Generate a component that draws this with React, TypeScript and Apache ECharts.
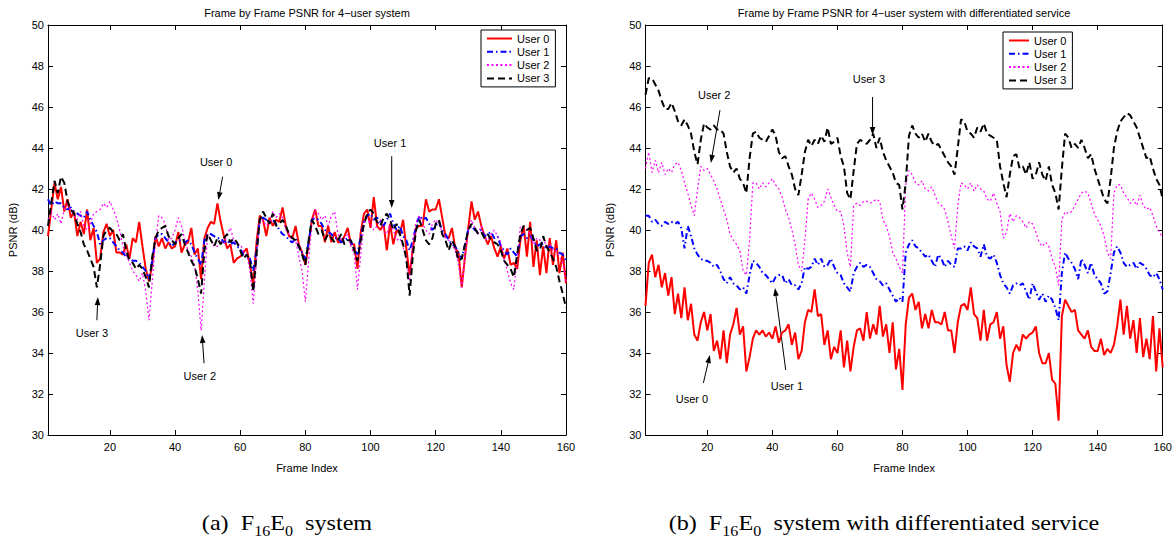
import React, { useEffect, useRef } from 'react';
import * as echarts from 'echarts';

// ---------- data ----------
const userNames = ['User 0', 'User 1', 'User 2', 'User 3'];
const xTicks = [20, 40, 60, 80, 100, 120, 140, 160];

// (a) F16E0 system
const leftUser0 = [
  39.7, 41.0, 42.3, 41.5, 42.1, 40.9, 41.5, 40.6, 40.9, 39.7,
  40.4, 39.8, 41.0, 39.5, 40.1, 38.4, 38.6, 39.9, 40.3, 39.7,
  40.0, 38.9, 38.9, 38.8, 39.3, 38.6, 39.6, 39.4, 40.4, 39.2,
  38.1, 37.5, 38.3, 39.7, 39.2, 39.6, 39.1, 39.4, 39.1, 39.2,
  39.9, 38.9, 39.3, 39.4, 40.1, 38.8, 39.1, 37.6, 39.6, 40.1,
  40.4, 40.3, 41.3, 40.4, 39.7, 39.1, 39.3, 38.4, 38.6, 38.7,
  38.9, 39.1, 38.3, 37.3, 39.4, 40.7, 40.5, 39.7, 40.6, 40.2,
  40.5, 40.4, 41.1, 40.2, 39.7, 39.6, 40.2, 39.3, 38.9, 38.3,
  39.3, 40.5, 41.0, 40.2, 40.2, 39.4, 40.2, 39.4, 39.9, 39.4,
  39.4, 39.7, 40.1, 39.3, 39.3, 38.1, 39.9, 40.8, 41.0, 40.1,
  41.6, 40.2, 40.0, 40.3, 39.0, 40.3, 39.3, 40.0, 39.8, 40.5,
  39.1, 37.8, 39.1, 40.1, 40.2, 40.2, 41.5, 40.9, 41.0, 41.0,
  41.5, 40.6, 39.7, 39.6, 40.1, 39.1, 38.9, 37.2, 38.7, 40.1,
  41.4, 40.5, 40.9, 40.2, 39.7, 39.3, 39.7, 39.1, 38.7, 39.2,
  38.6, 39.1, 38.3, 38.4, 38.1, 39.5, 40.2, 38.7, 40.4, 38.2,
  39.5, 37.8, 39.2, 37.9, 39.6, 38.3, 39.5, 37.9, 38.9, 37.4,
];
const leftUser1 = [
  41.5, 41.2, 41.4, 41.3, 41.3, 41.1, 41.0, 41.1, 40.9, 40.8,
  40.7, 40.6, 40.9, 40.5, 40.2, 39.9, 39.3, 39.5, 39.6, 39.6,
  39.4, 39.2, 39.0, 38.9, 38.7, 38.6, 38.5, 38.5, 38.4, 38.2,
  38.0, 37.6, 38.5, 39.6, 39.8, 39.8, 39.6, 39.4, 39.2, 39.4,
  39.5, 39.5, 39.4, 39.5, 39.3, 38.9, 38.6, 38.3, 39.5, 39.8,
  39.8, 39.7, 39.6, 39.6, 39.4, 39.5, 39.3, 39.4, 39.2, 39.1,
  38.8, 38.8, 38.6, 38.0, 39.0, 40.5, 40.6, 40.5, 40.4, 40.5,
  40.3, 40.0, 39.8, 39.7, 39.5, 39.4, 39.6, 39.2, 38.9, 38.6,
  39.4, 40.5, 40.6, 40.5, 40.3, 40.0, 39.9, 39.8, 39.6, 39.6,
  39.4, 39.5, 39.6, 39.4, 39.1, 38.8, 39.7, 40.4, 40.7, 40.8,
  40.5, 40.6, 40.4, 40.2, 40.5, 40.8, 40.3, 40.0, 40.2, 39.7,
  39.5, 39.0, 39.5, 40.2, 40.7, 40.5, 40.6, 40.3, 40.0, 40.2,
  40.4, 40.0, 39.8, 39.5, 39.3, 39.2, 38.9, 38.6, 39.3, 40.0,
  40.2, 40.0, 39.9, 40.0, 39.7, 39.8, 39.9, 39.6, 39.7, 39.2,
  39.0, 38.8, 39.1, 38.9, 38.7, 39.7, 39.8, 39.6, 39.7, 39.5,
  39.2, 39.3, 39.3, 39.1, 39.2, 39.1, 39.1, 38.9, 38.8, 38.5,
];
const leftUser2 = [
  40.5, 40.9, 40.5, 40.8, 40.3, 41.0, 41.2, 41.0, 40.7, 40.5,
  40.9, 40.2, 40.0, 40.3, 40.8, 40.9, 41.0, 41.3, 41.1, 41.4,
  41.0, 40.6, 40.0, 39.2, 38.8, 38.4, 38.0, 37.8, 37.5, 37.9,
  37.0, 35.6, 37.5, 39.4, 40.7, 40.6, 40.3, 39.5, 39.6, 40.0,
  40.6, 40.2, 39.5, 39.0, 38.7, 38.3, 37.0, 35.1, 37.5, 39.8,
  39.5, 39.2, 39.2, 39.5, 39.3, 39.8, 40.1, 39.5, 39.3, 39.3,
  39.0, 38.8, 38.0, 36.4, 38.5, 40.3, 40.5, 40.2, 40.4, 40.9,
  40.6, 40.8, 40.6, 40.0, 39.8, 39.5, 39.5, 38.7, 38.0, 36.5,
  38.5, 40.3, 41.0, 40.8, 40.5, 40.7, 40.2, 40.7, 40.9, 39.8,
  39.5, 39.6, 39.8, 39.2, 38.8, 37.1, 38.8, 40.3, 40.6, 40.3,
  40.0, 40.2, 40.5, 40.0, 39.8, 40.3, 40.0, 39.5, 39.6, 39.2,
  38.5, 37.5, 39.5, 40.4, 40.7, 40.3, 40.0, 39.8, 40.3, 40.5,
  40.3, 39.9, 39.6, 39.5, 39.3, 39.0, 38.3, 37.2, 38.8, 40.0,
  40.5, 40.1, 39.8, 40.2, 39.6, 39.5, 39.8, 40.0, 39.7, 39.4,
  38.6, 38.0, 37.4, 37.1, 38.6, 40.2, 40.1, 40.0, 39.8, 39.3,
  39.6, 39.5, 39.6, 39.2, 39.3, 39.0, 39.0, 38.7, 38.4, 37.5,
];
const leftUser3 = [
  40.2, 41.3, 42.4, 41.8, 42.6, 42.3, 41.4, 41.0, 40.8, 40.3,
  39.9, 39.3, 39.0, 38.6, 38.2, 37.2, 38.3, 39.7, 40.0, 40.1,
  39.9, 39.8, 39.5, 39.8, 39.0, 38.5, 38.4, 38.1, 38.3, 38.1,
  37.7, 37.2, 38.7, 39.6, 40.0, 40.1, 40.2, 39.7, 39.5, 39.3,
  39.6, 39.8, 39.3, 38.9, 38.5, 38.2, 37.6, 36.9, 39.0, 39.8,
  39.5, 39.2, 39.6, 39.3, 39.6, 39.8, 39.4, 39.6, 39.4, 39.0,
  38.6, 38.8, 38.5, 37.0, 38.8, 40.5, 40.9, 40.6, 40.3, 40.8,
  40.2, 40.3, 40.5, 40.2, 39.8, 39.6, 39.5, 39.2, 38.8, 38.3,
  39.5, 40.5, 40.2, 39.8, 40.0, 39.5, 39.8, 39.6, 39.4, 39.5,
  39.8, 39.3, 39.5, 39.5, 39.0, 38.5, 39.5, 40.3, 40.8, 41.0,
  40.8, 40.4, 40.2, 40.6, 40.8, 40.5, 40.0, 40.3, 39.8, 39.3,
  38.6, 36.8, 38.8, 40.0, 40.5, 40.0, 39.5, 39.3, 39.6, 40.3,
  40.5, 39.8, 39.5, 39.0, 39.5, 39.2, 38.5, 38.6, 39.3, 40.0,
  40.3, 40.1, 39.8, 39.9, 39.6, 39.8, 39.5, 39.4, 39.3, 39.0,
  38.5, 38.3, 38.1, 37.7, 38.8, 39.8, 40.2, 40.0, 40.1, 39.6,
  39.0, 39.0, 39.7, 39.2, 38.9, 38.6, 38.2, 37.5, 36.9, 36.2,
];

// (b) F16E0 system with differentiated service
const rightUser0 = [
  36.3, 38.4, 38.8, 37.7, 38.3, 37.2, 37.9, 36.8, 37.7, 35.9,
  36.9, 35.7, 37.2, 35.6, 36.4, 34.9, 34.6, 35.5, 36.0, 35.1,
  35.9, 34.1, 34.6, 33.7, 35.1, 33.5, 34.9, 35.4, 36.2, 34.9,
  35.3, 33.1, 33.8, 34.7, 35.1, 34.9, 35.1, 34.8, 35.0, 34.7,
  35.3, 34.5, 35.0, 35.1, 35.4, 34.4, 35.0, 33.7, 34.1, 35.5,
  36.1, 36.0, 37.1, 35.8, 35.9, 34.4, 35.1, 33.7, 34.3, 34.0,
  35.1, 33.3, 34.6, 33.1, 34.3, 35.1, 35.2, 34.6, 36.0, 34.7,
  35.4, 34.9, 36.3, 34.8, 35.4, 34.0, 35.5, 33.2, 34.2, 32.2,
  35.4, 36.7, 36.9, 36.1, 36.5, 35.2, 35.9, 35.2, 36.1, 35.5,
  35.5, 35.4, 36.0, 35.1, 35.1, 34.0, 35.5, 36.3, 36.4, 36.1,
  37.2, 35.9, 35.7, 34.6, 36.1, 34.6, 35.4, 35.5, 36.0, 34.7,
  35.3, 33.4, 32.6, 34.0, 34.4, 34.1, 34.9, 34.7, 34.9, 35.0,
  35.3, 34.0, 33.5, 33.5, 34.0, 32.7, 32.5, 30.7, 35.8, 36.6,
  36.3, 36.0, 36.1, 35.1, 34.9, 34.7, 35.1, 34.3, 34.1, 34.1,
  34.7, 33.9, 34.2, 34.0, 34.4, 35.3, 36.6, 34.9, 36.3, 34.7,
  35.6, 34.0, 35.7, 33.8, 34.7, 33.7, 35.8, 33.1, 35.2, 33.3,
];
const rightUser1 = [
  40.7, 40.7, 40.4, 40.5, 40.3, 40.2, 40.4, 40.3, 40.4, 40.3,
  40.4, 40.1, 39.1, 40.2, 39.7, 39.1, 38.8, 38.6, 38.5, 38.5,
  38.4, 38.2, 38.3, 38.0, 37.6, 37.4, 37.7, 37.4, 37.3, 37.1,
  37.2, 36.9, 37.8, 38.5, 38.4, 38.2, 37.9, 37.8, 37.6, 37.4,
  37.7, 37.8, 37.8, 37.4, 37.6, 37.3, 37.3, 37.1, 37.4, 38.2,
  38.1, 38.2, 38.6, 38.3, 38.6, 38.2, 38.3, 38.6, 38.2, 37.9,
  37.8, 37.4, 37.2, 37.0, 37.9, 38.2, 38.4, 38.2, 38.3, 38.2,
  37.9, 37.6, 37.5, 37.3, 37.4, 37.1, 36.8, 36.5, 36.7, 36.5,
  38.9, 39.3, 39.5, 39.2, 39.1, 38.9, 38.7, 38.8, 38.5, 38.2,
  38.8, 38.6, 38.2, 38.5, 38.3, 38.2, 39.1, 39.1, 39.2, 39.0,
  39.4, 39.2, 39.1, 38.7, 39.3, 38.7, 38.6, 38.8, 38.4, 37.8,
  37.4, 37.2, 36.9, 37.3, 37.4, 37.3, 37.4, 37.0, 36.6, 37.4,
  37.0, 36.6, 36.9, 36.5, 36.8, 36.6, 36.2, 35.6, 37.9, 38.9,
  38.6, 38.4, 38.1, 37.6, 38.6, 38.3, 37.9, 38.4, 37.8, 37.6,
  37.4, 36.9, 37.0, 37.9, 38.9, 39.2, 38.9, 38.4, 38.2, 38.3,
  38.4, 38.1, 38.4, 38.3, 38.1, 37.8, 37.7, 37.9, 37.6, 37.1,
];
const rightUser2 = [
  43.0, 43.8, 42.8, 43.4, 42.8, 43.3, 42.7, 43.0, 42.8, 43.2,
  43.3, 42.9, 42.3, 41.8, 41.2, 40.7, 42.0, 43.1, 42.9, 43.0,
  42.7, 42.4, 42.0, 41.5, 41.0, 40.5, 39.8, 39.5, 39.3, 39.0,
  38.0, 37.8, 39.5, 42.3, 42.3, 42.0, 42.3, 42.1, 42.3, 42.5,
  42.2, 42.0, 41.6, 41.0, 40.6, 40.0, 39.3, 38.3, 38.0, 39.5,
  41.5, 41.8, 41.5, 41.1, 41.2, 41.4, 42.0, 41.6, 41.2, 40.9,
  40.9, 40.2, 38.9, 38.2, 41.2, 41.3, 41.2, 41.4, 41.4, 41.3,
  41.4, 41.5, 41.4, 40.5, 40.2, 39.7, 38.9, 38.6, 38.2, 37.9,
  42.2, 42.9, 42.7, 42.3, 42.2, 42.4, 42.0, 41.9, 42.1, 41.7,
  41.3, 41.2, 41.0, 40.4, 39.7, 39.1, 41.2, 42.3, 42.2, 42.0,
  42.3, 41.9, 42.2, 42.0, 41.9, 41.5, 41.4, 41.8, 41.3, 40.9,
  39.6, 39.9, 40.8, 40.4, 40.7, 40.6, 40.4, 40.1, 40.4, 40.3,
  39.9, 39.4, 39.2, 39.4, 39.2, 38.6, 38.2, 37.3, 40.5, 40.9,
  40.8, 40.9, 41.2, 41.5, 41.8, 41.9, 41.8, 41.3, 40.8, 40.5,
  40.2, 39.7, 38.9, 38.6, 41.8, 42.2, 42.2, 41.8, 41.6, 41.3,
  41.5, 41.2, 41.7, 41.2, 41.0, 41.1, 40.7, 40.2, 39.9, 39.6,
];
const rightUser3 = [
  46.6, 47.4, 47.4, 47.1, 46.8, 46.3, 45.9, 45.9, 46.2, 45.8,
  45.3, 45.1, 45.4, 45.1, 44.7, 43.8, 43.2, 44.4, 45.2, 45.0,
  44.9, 45.1, 44.9, 44.9, 44.7, 43.8, 43.1, 42.8, 43.0, 42.5,
  42.3, 41.8, 43.5, 44.7, 44.8, 44.5, 44.4, 44.3, 44.6, 44.9,
  44.6, 43.8, 43.5, 43.6, 43.1, 42.7, 42.0, 41.7, 42.7, 43.8,
  44.4, 44.1, 44.4, 44.2, 44.6, 44.3, 45.0, 44.2, 44.3, 44.5,
  43.6, 43.1, 41.8, 41.5, 42.9, 44.2, 44.4, 44.3, 44.2, 44.4,
  44.7, 44.0, 44.5, 43.8, 43.4, 43.1, 42.8, 42.3, 42.2, 41.0,
  42.3, 44.6, 45.1, 44.7, 44.5, 44.7, 44.3, 44.7, 44.3, 44.1,
  44.2, 43.9, 43.6, 43.3, 43.1, 42.7, 44.0, 45.4, 45.3, 44.8,
  44.7, 44.5, 45.0, 44.8, 45.2, 44.7, 44.6, 44.5, 44.4, 43.1,
  42.3, 41.6, 42.7, 43.6, 43.7, 43.0, 43.1, 42.7, 43.3, 42.5,
  42.7, 43.3, 42.7, 42.4, 43.1, 42.2, 41.8, 41.0, 43.0, 44.7,
  44.5, 44.0, 44.2, 44.0, 44.4, 44.0, 43.5, 43.7, 43.0, 42.5,
  42.0, 41.5, 41.3, 42.5, 44.0, 44.8, 45.3, 45.5, 45.7, 45.6,
  45.3, 45.0, 44.5, 44.0, 43.5, 43.6, 43.0, 42.5, 42.2, 41.5,
];

const panelSeries = [
  [leftUser0, leftUser1, leftUser2, leftUser3],
  [rightUser0, rightUser1, rightUser2, rightUser3],
];

const panelTitles = [
  'Frame by Frame PSNR for 4\u2212user system',
  'Frame by Frame PSNR for 4\u2212user system with differentiated service',
];

const captions = [
  '(a)\u2002F{s|16}E{s|0}\u2002system',
  '(b)\u2002F{s|16}E{s|0}\u2002system with differentiated service',
];

// annotation arrows in data units: label position, arrow tail, arrow head
const panelAnnotations = [
  [
    { text: 'User 0', label: [52.6, 43.32], from: [54.6, 42.6], to: [53.3, 41.46] },
    { text: 'User 1', label: [106.0, 44.24], from: [106.5, 43.6], to: [106.5, 41.07] },
    { text: 'User 3', label: [14.5, 34.98], from: [16.0, 35.6], to: [16.3, 36.73] },
    { text: 'User 2', label: [47.6, 32.88], from: [48.9, 33.5], to: [48.3, 34.88] },
  ],
  [
    { text: 'User 2', label: [22.1, 46.59], from: [23.9, 45.85], to: [21.1, 43.27] },
    { text: 'User 3', label: [69.7, 47.37], from: [70.8, 46.49], to: [70.8, 44.63] },
    { text: 'User 0', label: [15.3, 31.76], from: [18.8, 32.54], to: [20.8, 33.9] },
    { text: 'User 1', label: [44.5, 32.39], from: [44.1, 33.17], to: [40.8, 37.17] },
  ],
];

// ---------- styling ----------
const SANS = '"Liberation Sans", Arial, Helvetica, sans-serif';
const SERIF = '"Liberation Serif", "Times New Roman", Times, serif';

const lineStyles = [
  { color: '#ff0000', type: 'solid', width: 2 },
  { color: '#0000ff', type: [6, 3, 1.5, 3], width: 2 },
  { color: '#ff00ff', type: [2, 2.5], width: 1.2 },
  { color: '#000000', type: [7, 4], width: 2 },
];

const gridRects = [
  { left: 48, top: 25, width: 518, height: 410 },
  { left: 645.5, top: 25, width: 517.2, height: 410 },
];
const legendPos = [
  { left: 481, top: 30, itemWidth: 25 },
  { left: 1003, top: 32, itemWidth: 20 },
];
const captionCenters = [287, 884];

export default function App() {
  const ref = useRef<HTMLDivElement>(null);

  useEffect(() => {
    if (!ref.current) return;
    const chart = echarts.init(ref.current, undefined, { renderer: 'svg' });

    const axisLine = { show: true, onZero: false, lineStyle: { color: '#000', width: 1 } };
    const xAxes: any[] = [];
    const yAxes: any[] = [];
    const series: any[] = [];

    gridRects.forEach((_, g) => {
      xAxes.push({
        gridIndex: g, type: 'value', min: 1, max: 160, position: 'bottom',
        name: 'Frame Index', nameLocation: 'middle', nameGap: 27,
        nameTextStyle: { fontSize: 11, fontFamily: SANS, color: '#000' },
        axisLine,
        axisTick: { show: true, inside: true, length: 5, customValues: xTicks, lineStyle: { color: '#000' } },
        axisLabel: { show: true, customValues: xTicks, margin: 6, fontSize: 11, fontFamily: SANS, color: '#000' },
        splitLine: { show: false },
      });
      xAxes.push({
        gridIndex: g, type: 'value', min: 1, max: 160, position: 'top',
        axisLine,
        axisTick: { show: true, inside: true, length: 5, customValues: xTicks, lineStyle: { color: '#000' } },
        axisLabel: { show: false },
        splitLine: { show: false },
      });
      yAxes.push({
        gridIndex: g, type: 'value', min: 30, max: 50, interval: 2, position: 'left',
        name: 'PSNR (dB)', nameLocation: 'middle', nameGap: 30, nameRotate: 90,
        nameTextStyle: { fontSize: 11, fontFamily: SANS, color: '#000' },
        axisLine,
        axisTick: { show: true, inside: true, length: 5, lineStyle: { color: '#000' } },
        axisLabel: { show: true, margin: 4, fontSize: 11, fontFamily: SANS, color: '#000' },
        splitLine: { show: false },
      });
      yAxes.push({
        gridIndex: g, type: 'value', min: 30, max: 50, interval: 2, position: 'right',
        axisLine,
        axisTick: { show: true, inside: true, length: 5, lineStyle: { color: '#000' } },
        axisLabel: { show: false },
        splitLine: { show: false },
      });
      panelSeries[g].forEach((vals, u) => {
        series.push({
          type: 'line',
          name: userNames[u],
          xAxisIndex: 2 * g,
          yAxisIndex: 2 * g,
          data: vals.map((v, i) => [i + 1, v]),
          symbol: 'none',
          showSymbol: false,
          lineStyle: { ...lineStyles[u] },
          itemStyle: { color: lineStyles[u].color },
          z: 2 + u,
        });
      });
    });

    chart.setOption({
      animation: false,
      backgroundColor: '#ffffff',
      grid: gridRects.map((r) => ({ ...r, containLabel: false, outerBoundsMode: 'none' })),
      xAxis: xAxes,
      yAxis: yAxes,
      legend: legendPos.map((p) => ({
        orient: 'vertical', left: p.left, top: p.top,
        data: userNames, selectedMode: false,
        backgroundColor: '#ffffff', borderColor: '#000', borderWidth: 1, borderRadius: 0,
        padding: [3, 6, 3, 5], itemGap: 2.3, itemWidth: p.itemWidth, itemHeight: 11,
        itemStyle: { opacity: 0 },
        textStyle: { fontSize: 11, fontFamily: SANS, color: '#000' },
      })),
      series,
    });

    const graphics: any[] = [];
    const text = (x: number, y: number, s: string, extra: any = {}, el: any = {}) => ({
      type: 'text', x, y, silent: true, ...el,
      style: {
        text: s, fill: '#000', fontSize: 11, fontFamily: SANS,
        align: 'center', verticalAlign: 'middle', textAlign: 'center', textVerticalAlign: 'middle',
        ...extra,
      },
    });

    gridRects.forEach((r, g) => {
      graphics.push(text(r.left + r.width / 2, 13, panelTitles[g]));
      panelAnnotations[g].forEach((a) => {
        const finder = { xAxisIndex: 2 * g, yAxisIndex: 2 * g };
        const lp = chart.convertToPixel(finder, a.label) as number[];
        const p0 = chart.convertToPixel(finder, a.from) as number[];
        const p1 = chart.convertToPixel(finder, a.to) as number[];
        graphics.push(text(lp[0], lp[1], a.text));
        const dx = p1[0] - p0[0];
        const dy = p1[1] - p0[1];
        const len = Math.sqrt(dx * dx + dy * dy) || 1;
        const ux = dx / len, uy = dy / len;
        const hl = 8, hw = 2.8;
        const bx = p1[0] - ux * hl, by = p1[1] - uy * hl;
        graphics.push({
          type: 'line', silent: true,
          shape: { x1: p0[0], y1: p0[1], x2: bx, y2: by },
          style: { stroke: '#000', lineWidth: 1 },
        });
        graphics.push({
          type: 'polygon', silent: true,
          shape: { points: [[p1[0], p1[1]], [bx - uy * hw, by + ux * hw], [bx + uy * hw, by - ux * hw]] },
          style: { fill: '#000' },
        });
      });
    });

    const captionStyle = {
      fontSize: 21, fontFamily: SERIF, lineHeight: 30,
      rich: { s: { fontSize: 14, fontFamily: SERIF, verticalAlign: 'bottom', lineHeight: 30 } },
    };
    captions.forEach((c, i) => {
      graphics.push(text(captionCenters[i], 523, c, captionStyle, { scaleX: 1.15 }));
    });

    chart.setOption({ graphic: { elements: graphics } });

    return () => chart.dispose();
  }, []);

  return (
    <div
      ref={ref}
      style={{ position: 'fixed', left: 0, top: 0, width: 1175, height: 537, background: '#fff' }}
    />
  );
}
